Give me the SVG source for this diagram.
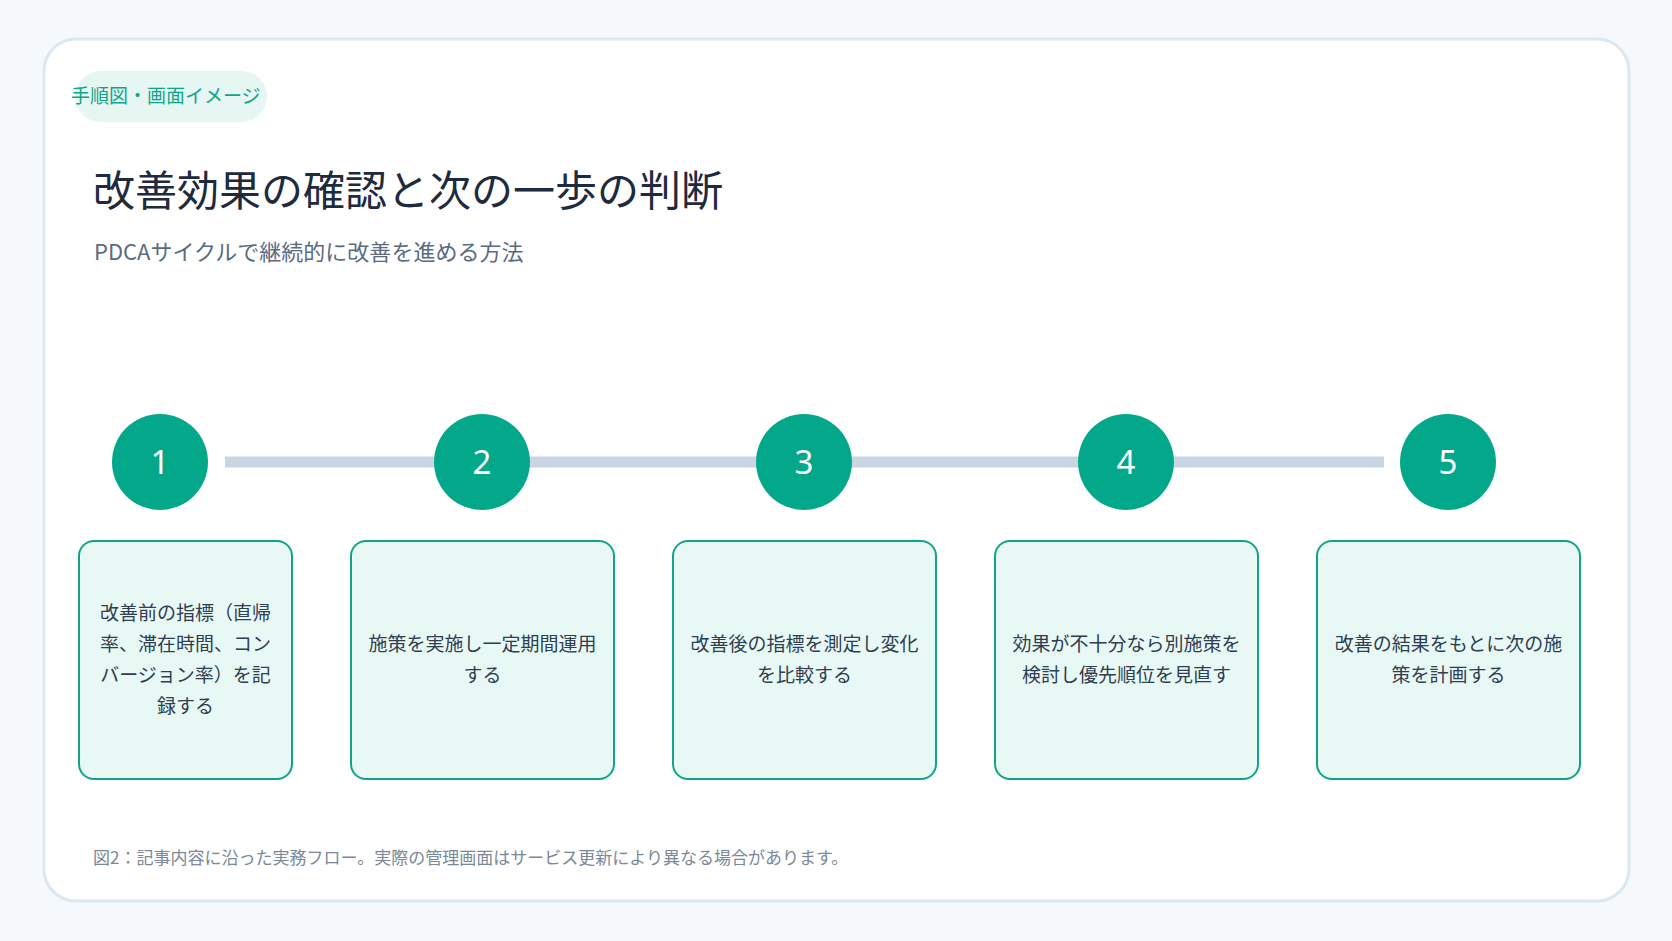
<svg xmlns="http://www.w3.org/2000/svg" width="1672" height="941" viewBox="0 0 1672 941">
<style>
text{font-family:"Noto Sans CJK JP","Noto Sans",sans-serif}
.c{fill:#03a88b}
.n{fill:#fff;font-size:33px;text-anchor:middle;font-family:"Noto Sans","Noto Sans CJK JP",sans-serif}
.b{fill:#e8f8f4;stroke:#0fa58a;stroke-width:2}
.t{fill:#2f3e50;font-size:19px;text-anchor:middle}
</style>
<rect width="1672" height="941" fill="#f5f9fc"/>
<rect x="44" y="39" width="1585" height="862" rx="32" fill="#fff" stroke="#dde7f0" stroke-width="3"/>
<rect x="75" y="71" width="192" height="51" rx="25.5" fill="#e6f7f3"/>
<text x="71" y="103" font-size="19" fill="#0fa58a">手順図・画面イメージ</text>
<text x="93" y="206" font-size="42" fill="#1e2a3e">改善効果の確認と次の一歩の判断</text>
<text x="94" y="260" font-size="22" fill="#5a6b80">PDCAサイクルで継続的に改善を進める方法</text>
<g id="connectors"><line x1="225" y1="462" x2="1384" y2="462" stroke="#c8d6e4" stroke-width="11"/></g>
<g id="step1"><circle class="c" cx="160" cy="462" r="48"/><text class="n" x="160" y="474">1</text>
<rect class="b" x="79" y="541" width="213" height="238" rx="15"/>
<text class="t" x="185.5" y="620">改善前の指標（直帰</text><text class="t" x="185.5" y="651">率、滞在時間、コン</text><text class="t" x="185.5" y="682">バージョン率）を記</text><text class="t" x="185.5" y="713">録する</text></g>
<g id="step2"><circle class="c" cx="482" cy="462" r="48"/><text class="n" x="482" y="474">2</text>
<rect class="b" x="351" y="541" width="263" height="238" rx="15"/>
<text class="t" x="482.5" y="651">施策を実施し一定期間運用</text><text class="t" x="482.5" y="682">する</text></g>
<g id="step3"><circle class="c" cx="804" cy="462" r="48"/><text class="n" x="804" y="474">3</text>
<rect class="b" x="673" y="541" width="263" height="238" rx="15"/>
<text class="t" x="804.5" y="651">改善後の指標を測定し変化</text><text class="t" x="804.5" y="682">を比較する</text></g>
<g id="step4"><circle class="c" cx="1126" cy="462" r="48"/><text class="n" x="1126" y="474">4</text>
<rect class="b" x="995" y="541" width="263" height="238" rx="15"/>
<text class="t" x="1126.5" y="651">効果が不十分なら別施策を</text><text class="t" x="1126.5" y="682">検討し優先順位を見直す</text></g>
<g id="step5"><circle class="c" cx="1448" cy="462" r="48"/><text class="n" x="1448" y="474">5</text>
<rect class="b" x="1317" y="541" width="263" height="238" rx="15"/>
<text class="t" x="1448.5" y="651">改善の結果をもとに次の施</text><text class="t" x="1448.5" y="682">策を計画する</text></g>
<text x="93" y="864" font-size="17" fill="#7a8899">図2：記事内容に沿った実務フロー。実際の管理画面はサービス更新により異なる場合があります。</text>
</svg>
